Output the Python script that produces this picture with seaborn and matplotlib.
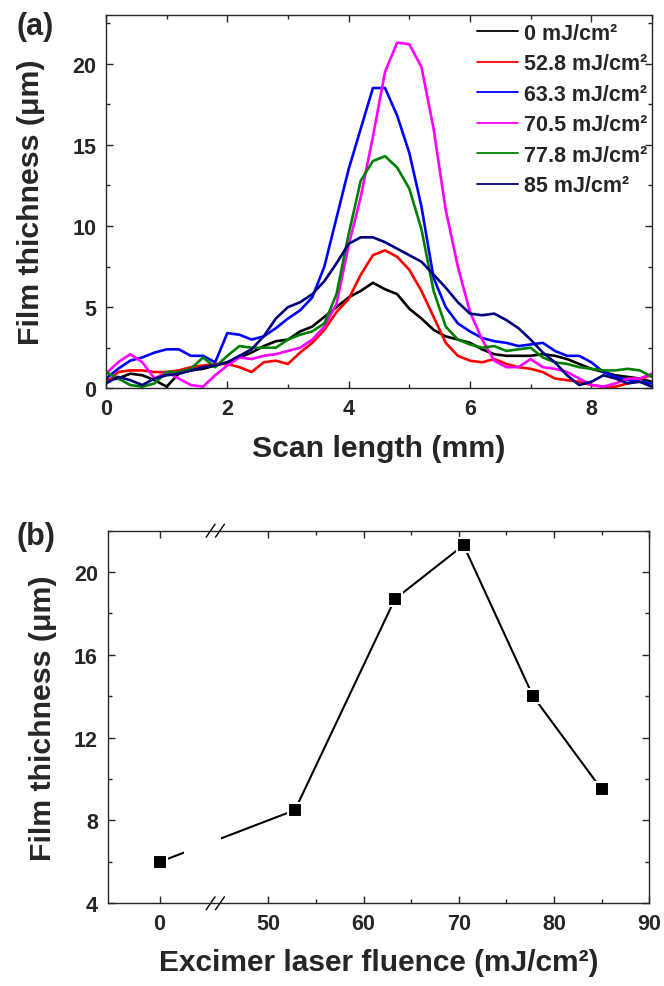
import matplotlib
matplotlib.use("Agg")
import numpy as np
import pandas as pd
import matplotlib.pyplot as plt
import seaborn as sns
from matplotlib.ticker import MultipleLocator, FixedLocator

# ---- data ----
# (a) thickness profiles along the scan, one list per laser fluence
scan_mm = [0.0, 0.2, 0.4, 0.6, 0.8, 1.0, 1.2, 1.4, 1.6, 1.8, 2.0, 2.2, 2.4, 2.6, 2.8,
           3.0, 3.2, 3.4, 3.6, 3.8, 4.0, 4.2, 4.4, 4.6, 4.8, 5.0, 5.2, 5.4, 5.6, 5.8,
           6.0, 6.2, 6.4, 6.6, 6.8, 7.0, 7.2, 7.4, 7.6, 7.8, 8.0, 8.2, 8.4, 8.6, 8.8, 9.0]

thick_0 = [0.5, 0.6, 0.9, 0.8, 0.5, 0.1, 0.9, 1.1, 1.2, 1.4, 1.6, 1.9, 2.2, 2.6, 2.9,
           3.0, 3.5, 3.8, 4.4, 5.0, 5.6, 6.0, 6.5, 6.1, 5.8, 4.9, 4.3, 3.6, 3.2, 3.0,
           2.8, 2.4, 2.1, 2.0, 2.0, 2.0, 2.1, 2.0, 1.8, 1.5, 1.2, 1.0, 0.8, 0.7, 0.6, 0.4]
thick_52 = [0.3, 1.0, 1.1, 1.1, 1.0, 1.0, 1.1, 1.3, 1.4, 1.5, 1.5, 1.3, 1.0, 1.6, 1.7,
            1.5, 2.2, 2.8, 3.6, 4.7, 5.5, 7.0, 8.2, 8.5, 8.1, 7.3, 6.0, 4.4, 2.8, 2.0,
            1.7, 1.6, 1.8, 1.5, 1.3, 1.2, 1.0, 0.6, 0.5, 0.4, 0.2, 0.1, 0.1, 0.3, 0.6, 0.8]
thick_63 = [0.6, 1.2, 1.7, 1.9, 2.2, 2.4, 2.4, 2.0, 2.0, 1.6, 3.4, 3.3, 3.0, 3.2, 3.7,
            4.3, 4.8, 5.6, 7.5, 10.5, 13.5, 16.0, 18.5, 18.5, 16.8, 14.5, 11.2, 6.8, 5.0, 4.0,
            3.5, 3.1, 2.9, 2.8, 2.6, 2.7, 2.8, 2.3, 2.0, 2.0, 1.6, 1.0, 0.7, 0.5, 0.4, 0.3]
thick_70 = [0.9, 1.6, 2.1, 1.6, 0.6, 1.0, 0.6, 0.2, 0.1, 0.8, 1.4, 1.9, 1.8, 2.0, 2.1,
            2.3, 2.5, 3.0, 3.8, 5.2, 8.8, 11.8, 15.5, 19.5, 21.3, 21.2, 19.8, 16.0, 11.0, 7.5,
            4.7, 3.0, 1.7, 1.3, 1.3, 1.8, 1.3, 1.2, 1.0, 0.6, 0.2, 0.1, 0.3, 0.6, 0.6, 0.9]
thick_77 = [1.0, 0.6, 0.2, 0.1, 0.3, 1.0, 1.0, 1.2, 1.9, 1.3, 2.0, 2.6, 2.5, 2.5, 2.5,
            3.0, 3.3, 3.5, 4.0, 5.8, 9.5, 12.8, 14.0, 14.3, 13.6, 12.3, 9.8, 6.0, 3.8, 3.0,
            2.7, 2.5, 2.6, 2.3, 2.4, 2.5, 1.9, 1.6, 1.5, 1.3, 1.2, 1.1, 1.1, 1.2, 1.1, 0.7]
thick_85 = [0.3, 0.7, 0.5, 0.2, 0.6, 0.8, 0.9, 1.1, 1.3, 1.4, 1.6, 2.0, 2.4, 3.2, 4.3,
            5.0, 5.3, 5.8, 6.6, 7.7, 8.9, 9.3, 9.3, 9.0, 8.6, 8.2, 7.8, 7.0, 6.2, 5.3,
            4.6, 4.5, 4.6, 4.2, 3.7, 3.0, 2.2, 1.6, 0.8, 0.2, 0.4, 0.8, 0.6, 0.3, 0.4, 0.1]

series_labels = ["0 mJ/cm\u00b2", "52.8 mJ/cm\u00b2", "63.3 mJ/cm\u00b2",
                 "70.5 mJ/cm\u00b2", "77.8 mJ/cm\u00b2", "85 mJ/cm\u00b2"]
series_colors = ["#000000", "#ff0000", "#0000ff", "#ff00ff", "#008000", "#000080"]

# (b) peak thickness vs fluence
fluence = [0, 52.8, 63.3, 70.5, 77.8, 85]
peak_thickness = [6.0, 8.5, 18.7, 21.3, 14.0, 9.5]

# ---- style ----
sns.set_style("ticks")
plt.rcParams["font.family"] = ["Liberation Sans", "DejaVu Sans"]
plt.rcParams["font.weight"] = "bold"
plt.rcParams["axes.labelweight"] = "bold"
plt.rcParams["axes.linewidth"] = 1.0

fig = plt.figure(figsize=(6.64, 9.87), dpi=100)
ax1 = fig.add_axes([0.1596, 0.6056, 0.8223, 0.3782])
ax2 = fig.add_axes([0.1622, 0.0838, 0.8157, 0.3775])

# ---- panel (a) ----
profiles = [thick_0, thick_52, thick_63, thick_70, thick_77, thick_85]
frames = [pd.DataFrame({"scan": scan_mm, "thickness": vals, "label": lab})
          for vals, lab in zip(profiles, series_labels)]
df = pd.concat(frames, ignore_index=True)

sns.lineplot(data=df, x="scan", y="thickness", hue="label", hue_order=series_labels,
             palette=dict(zip(series_labels, series_colors)), estimator=None,
             sort=False, linewidth=1.9, ax=ax1)

ax1.set_xlim(0, 9)
ax1.set_ylim(0, 23)
ax1.xaxis.set_major_locator(MultipleLocator(2))
ax1.xaxis.set_minor_locator(MultipleLocator(1))
ax1.yaxis.set_major_locator(MultipleLocator(5))
ax1.yaxis.set_minor_locator(MultipleLocator(2.5))
ax1.set_xlabel("Scan length (mm)", fontsize=21.8)
ax1.set_ylabel("Film thichness (\u03bcm)", fontsize=21.8)
ax1.xaxis.set_label_coords(0.5, -0.122)
ax1.yaxis.set_label_coords(-0.112, 0.5)

leg = ax1.legend(loc="upper left", bbox_to_anchor=(477 / 664, 1 - 24 / 987),
                 bbox_transform=fig.transFigure, frameon=False, fontsize=15.5,
                 handlelength=1.9, handletextpad=0.3, labelspacing=0.44,
                 borderpad=0, borderaxespad=0)
for line in leg.get_lines():
    line.set_linewidth(1.3)

# ---- panel (b): broken x axis, the 0 value sits left of the break ----
zero_pos = 38.6
pos = [f + zero_pos if f < 40 else f for f in fluence]
sns.lineplot(x=pos, y=peak_thickness, color="black", marker="s", markersize=10.5,
             markeredgecolor="white", markeredgewidth=1.5, linewidth=1.5, ax=ax2)

ax2.set_xlim(33.15, 90)
ax2.set_ylim(4, 22)
ax2.xaxis.set_major_locator(FixedLocator([zero_pos, 50, 60, 70, 80, 90]))
ax2.set_xticklabels(["0", "50", "60", "70", "80", "90"])
ax2.xaxis.set_minor_locator(FixedLocator([55, 65, 75, 85]))
ax2.yaxis.set_major_locator(MultipleLocator(4))
ax2.yaxis.set_minor_locator(MultipleLocator(2))
ax2.set_xlabel("Excimer laser fluence (mJ/cm\u00b2)", fontsize=21.5)
ax2.set_ylabel("Film thichness (\u03bcm)", fontsize=21.8)
ax2.xaxis.set_label_coords(0.5, -0.12)
ax2.yaxis.set_label_coords(-0.094, 0.5)

# gap in the connecting line and the // break marks
ax2.axvspan(41.2, 45.0, color="white", zorder=2.2, lw=0)
trans = ax2.get_xaxis_transform()
for yb in (0, 1):
    for xc in (43.95, 44.93):
        ax2.plot([xc - 0.47, xc + 0.47], [yb - 0.0174, yb + 0.0174], color="black",
                 lw=1.0, transform=trans, clip_on=False, zorder=3)

for ax in (ax1, ax2):
    ax.tick_params(which="both", direction="in", top=True, right=True,
                   labelsize=15.5, width=1.0, pad=7)
    ax.tick_params(which="major", length=5)
    ax.tick_params(which="minor", length=3)
    for sp in ax.spines.values():
        sp.set_visible(True)
        sp.set_linewidth(1.0)
        sp.set_zorder(3)

fig.text(17 / 664, 1 - 12 / 987, "(a)", fontsize=22, fontweight="bold", va="top", ha="left")
fig.text(17 / 664, 1 - 522 / 987, "(b)", fontsize=22, fontweight="bold", va="top", ha="left")

fig.savefig("out.png", dpi=100)
